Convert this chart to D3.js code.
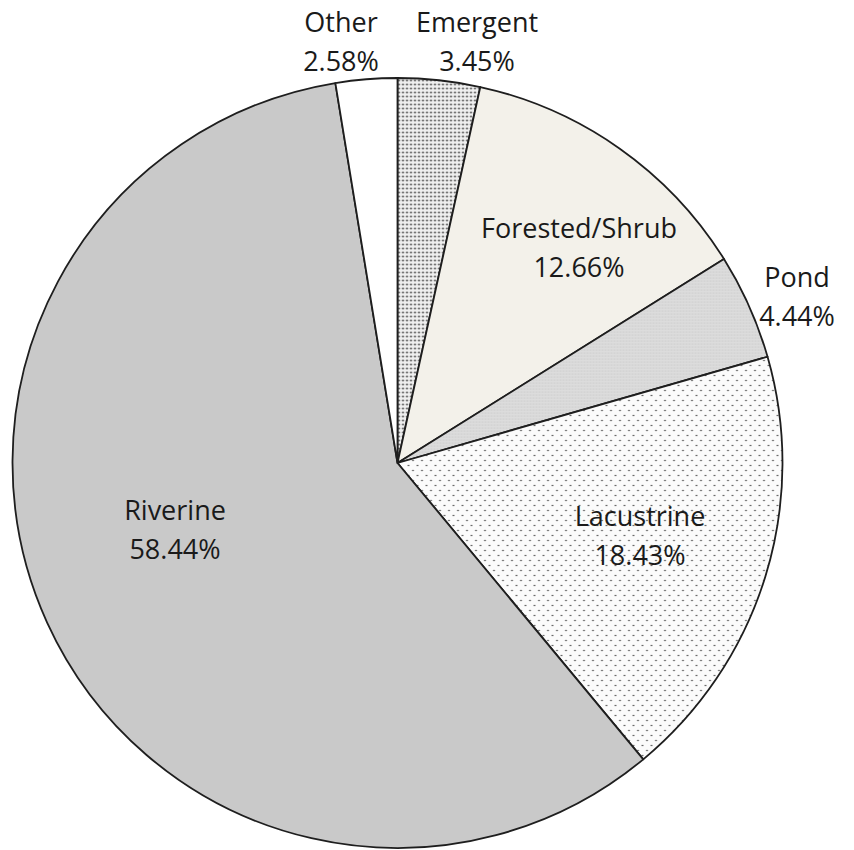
<!DOCTYPE html>
<html>
<head>
<meta charset="utf-8">
<script src="https://cdn.jsdelivr.net/npm/d3@7"></script>
<style>
  body { margin: 0; background: #fff; }
  svg text { font-family: "Open Sans", sans-serif; fill: #1a1a1a; }
</style>
</head>
<body>
<script>
// slice data, clockwise from 12 o'clock
var categories = ["Emergent", "Forested/Shrub", "Pond", "Lacustrine", "Riverine", "Other"];
var shares = [3.45, 12.66, 4.44, 18.43, 58.44, 2.58];
var labelText = ["3.45%", "12.66%", "4.44%", "18.43%", "58.44%", "2.58%"];

var width = 854, height = 850;
var cx = 397.5, cy = 463, radius = 385;

var svg = d3.select("body").append("svg")
    .attr("width", width)
    .attr("height", height);

var defs = svg.append("defs");

// dense dots for Emergent
var p1 = defs.append("pattern").attr("id", "dense").attr("patternUnits", "userSpaceOnUse")
    .attr("width", 4).attr("height", 4);
p1.append("rect").attr("width", 4).attr("height", 4).attr("fill", "#efefef");
p1.append("circle").attr("cx", 1.5).attr("cy", 1.5).attr("r", 0.9).attr("fill", "#3a3a3a");

// sparse staggered dots for Lacustrine
var p2 = defs.append("pattern").attr("id", "sparse").attr("patternUnits", "userSpaceOnUse")
    .attr("width", 9).attr("height", 10);
p2.append("rect").attr("width", 9).attr("height", 10).attr("fill", "#fbfbfb");
p2.append("circle").attr("cx", 2).attr("cy", 2.5).attr("r", 0.8).attr("fill", "#333");
p2.append("circle").attr("cx", 6.5).attr("cy", 7.5).attr("r", 0.8).attr("fill", "#333");

// fine texture for Pond
var p3 = defs.append("pattern").attr("id", "fine").attr("patternUnits", "userSpaceOnUse")
    .attr("width", 3).attr("height", 3);
p3.append("rect").attr("width", 3).attr("height", 3).attr("fill", "#dcdcdc");
p3.append("circle").attr("cx", 1).attr("cy", 1).attr("r", 0.5).attr("fill", "#b8b8b8");

var fills = ["url(#dense)", "#f3f1ea", "url(#fine)", "url(#sparse)", "#c9c9c9", "#ffffff"];

var pie = d3.pie().sort(null).value(function(d) { return d; });
var arcs = pie(shares);

var arc = d3.arc().innerRadius(0).outerRadius(radius);

var g = svg.append("g").attr("transform", "translate(" + cx + "," + cy + ")");

g.selectAll("path.slice")
    .data(arcs)
  .enter().append("path")
    .attr("class", "slice")
    .attr("d", arc)
    .attr("fill", function(d, i) { return fills[i]; })
    .attr("stroke", "#1e1e1e")
    .attr("stroke-width", 1.8)
    .attr("stroke-linejoin", "round");

// label placement: inside slices by radial factor, small slices pushed outside
var labelRadius = [1.05, 0.6, 1.1, 0.66, 0.58, 1.05];
var labelPos = arcs.map(function(d, i) {
  var a = (d.startAngle + d.endAngle) / 2;
  return [Math.sin(a) * radius * labelRadius[i], -Math.cos(a) * radius * labelRadius[i]];
});
// fine tune to the picture
labelPos[0] = [477 - cx, 32 - cy];
labelPos[5] = [341 - cx, 32 - cy];
labelPos[1] = [579 - cx, 238 - cy];
labelPos[2] = [797 - cx, 287 - cy];
labelPos[3] = [640 - cx, 526 - cy];
labelPos[4] = [175 - cx, 520 - cy];

var labels = g.selectAll("text.lbl")
    .data(arcs)
  .enter().append("text")
    .attr("class", "lbl")
    .attr("text-anchor", "middle")
    .attr("font-size", 27)
    .attr("transform", function(d, i) { return "translate(" + labelPos[i] + ")"; });

labels.append("tspan").attr("x", 0).attr("y", 0)
    .text(function(d, i) { return categories[i]; });
labels.append("tspan").attr("x", 0).attr("y", 39)
    .text(function(d, i) { return labelText[i]; });
</script>
</body>
</html>
